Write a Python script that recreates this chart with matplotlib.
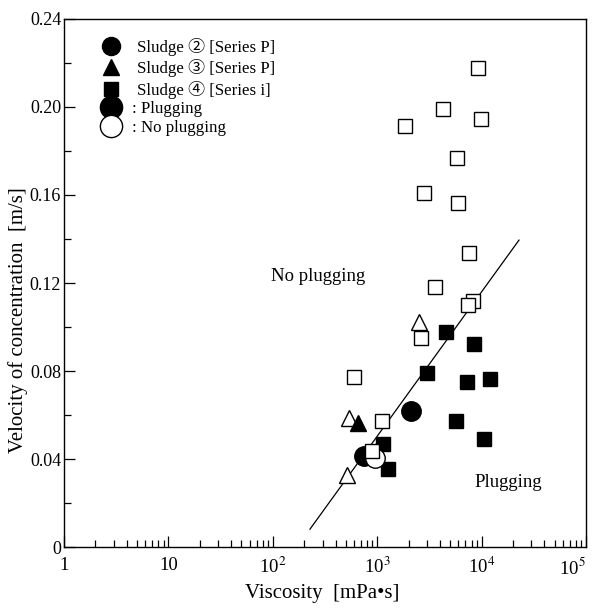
import matplotlib
matplotlib.use("Agg")
import matplotlib.pyplot as plt
from matplotlib.lines import Line2D
from matplotlib.ticker import FixedLocator, LogLocator, NullFormatter, FixedFormatter
import numpy as np

plt.rcParams['font.family'] = ['Liberation Serif', 'DejaVu Serif', 'Noto Sans CJK JP']
plt.rcParams['mathtext.fontset'] = 'stix'

# Sludge 4 [Series i] - no plugging (open squares)
s4_open_visc = [9240, 4270, 9870, 1846, 5810, 2806, 5940, 7570, 3580, 8270, 7410, 2628, 600, 1112, 892]
s4_open_vel = [0.2177, 0.1991, 0.1945, 0.1914, 0.1768, 0.1609, 0.1564, 0.1336, 0.1182, 0.1118, 0.1100, 0.0950, 0.0773, 0.0573, 0.0436]
# Sludge 4 [Series i] - plugging (filled squares)
s4_fill_visc = [4560, 8460, 3000, 7250, 12030, 5690, 10540, 1137, 1269]
s4_fill_vel = [0.0977, 0.0923, 0.0791, 0.0750, 0.0764, 0.0573, 0.0491, 0.0468, 0.0355]
# Sludge 3 [Series P]
s3_open_visc = [2514, 537, 514]
s3_open_vel = [0.1023, 0.0586, 0.0327]
s3_fill_visc = [655]
s3_fill_vel = [0.0564]
# Sludge 2 [Series P]
s2_fill_visc = [2108, 748]
s2_fill_vel = [0.0618, 0.0414]
s2_open_visc = [953]
s2_open_vel = [0.0405]
# Boundary line
boundary_visc = [227, 22800]
boundary_vel = [0.0082, 0.1395]

y_ticks = [0, 0.04, 0.08, 0.12, 0.16, 0.20, 0.24]
y_labels = ['0', '0.04', '0.08', '0.12', '0.16', '0.20', '0.24']
x_ticks = [1, 10, 100, 1000, 10000, 100000]
x_labels = ['1', '10', r'10$^2$', r'10$^3$', r'10$^4$', r'10$^5$']

fig = plt.figure(figsize=(5.98, 6.08), dpi=100)
ax = fig.add_axes([0.107, 0.100, 0.873, 0.869])

ax.plot(boundary_visc, boundary_vel, color='black', lw=0.9, zorder=1)

ms_sq = 10.5
ms_tri = 11
ms_circ = 14
kw_open = dict(linestyle='none', markerfacecolor='white', markeredgecolor='black', markeredgewidth=1.0)
kw_fill = dict(linestyle='none', color='black', markeredgecolor='black')

ax.plot(s2_fill_visc, s2_fill_vel, marker='o', markersize=ms_circ, zorder=3, **kw_fill)
ax.plot(s2_open_visc, s2_open_vel, marker='o', markersize=ms_circ, zorder=4, **kw_open)
ax.plot(s3_open_visc, s3_open_vel, marker='^', markersize=ms_tri, zorder=3, **kw_open)
ax.plot(s3_fill_visc, s3_fill_vel, marker='^', markersize=ms_tri, zorder=4, **kw_fill)
ax.plot(s4_fill_visc, s4_fill_vel, marker='s', markersize=ms_sq, zorder=3, **kw_fill)
ax.plot(s4_open_visc, s4_open_vel, marker='s', markersize=ms_sq, zorder=5, **kw_open)

ax.set_xscale('log')
ax.set_xlim(1, 1e5)
ax.set_ylim(0, 0.24)

ax.xaxis.set_major_locator(FixedLocator(x_ticks))
ax.xaxis.set_major_formatter(FixedFormatter(x_labels))
ax.xaxis.set_minor_locator(LogLocator(base=10, subs=np.arange(2, 10)))
ax.xaxis.set_minor_formatter(NullFormatter())
ax.yaxis.set_major_locator(FixedLocator(y_ticks))
ax.yaxis.set_major_formatter(FixedFormatter(y_labels))
ax.yaxis.set_minor_locator(FixedLocator([0.02, 0.06, 0.10, 0.14, 0.18, 0.22]))

ax.tick_params(axis='both', which='both', direction='in', top=False, right=False, width=0.9)
ax.tick_params(axis='x', which='major', labelsize=13.5, pad=7)
ax.tick_params(axis='y', which='major', labelsize=13, pad=2)
ax.tick_params(axis='both', which='major', length=8)
ax.tick_params(axis='both', which='minor', length=5)
for sp in ax.spines.values():
    sp.set_linewidth(1.0)

fig.canvas.draw()
xtl = ax.get_xticklabels()
xtl[-1].set_horizontalalignment('right')
xtl[-1].set_x(1e5)

ax.set_xlabel('Viscosity  [mPa•s]', fontsize=15)
ax.xaxis.set_label_coords(0.494, -0.088)
ax.xaxis.label.set_verticalalignment('center')
ax.set_ylabel('Velocity of concentration  [m/s]', fontsize=15)
ax.yaxis.set_label_coords(-0.088, 0.43)
ax.yaxis.label.set_verticalalignment('center')

ax.text(96, 0.123, 'No plugging', fontsize=13.5, ha='left', va='center')
ax.text(8460, 0.0295, 'Plugging', fontsize=13.5, ha='left', va='center')

h1 = [Line2D([], [], marker='o', color='black', linestyle='none', markersize=13),
      Line2D([], [], marker='^', color='black', linestyle='none', markersize=11),
      Line2D([], [], marker='s', color='black', linestyle='none', markersize=10)]
l1 = ['Sludge ② [Series P]', 'Sludge ③ [Series P]', 'Sludge ④ [Series i]']
leg1 = ax.legend(h1, l1, loc='upper left', bbox_to_anchor=(0.058, 0.977), frameon=False,
                 fontsize=12.2, handletextpad=0.9, labelspacing=0.2, handlelength=1.2,
                 borderaxespad=0.0)
ax.add_artist(leg1)
h2 = [Line2D([], [], marker='o', color='black', linestyle='none', markersize=16),
      Line2D([], [], marker='o', markerfacecolor='white', markeredgecolor='black', linestyle='none', markersize=16)]
l2 = [': Plugging', ': No plugging']
ax.legend(h2, l2, loc='upper left', bbox_to_anchor=(0.058, 0.858), frameon=False,
          fontsize=12.2, handletextpad=0.6, labelspacing=0.2, handlelength=1.2,
          borderaxespad=0.0)

fig.savefig('out.png', dpi=100)
